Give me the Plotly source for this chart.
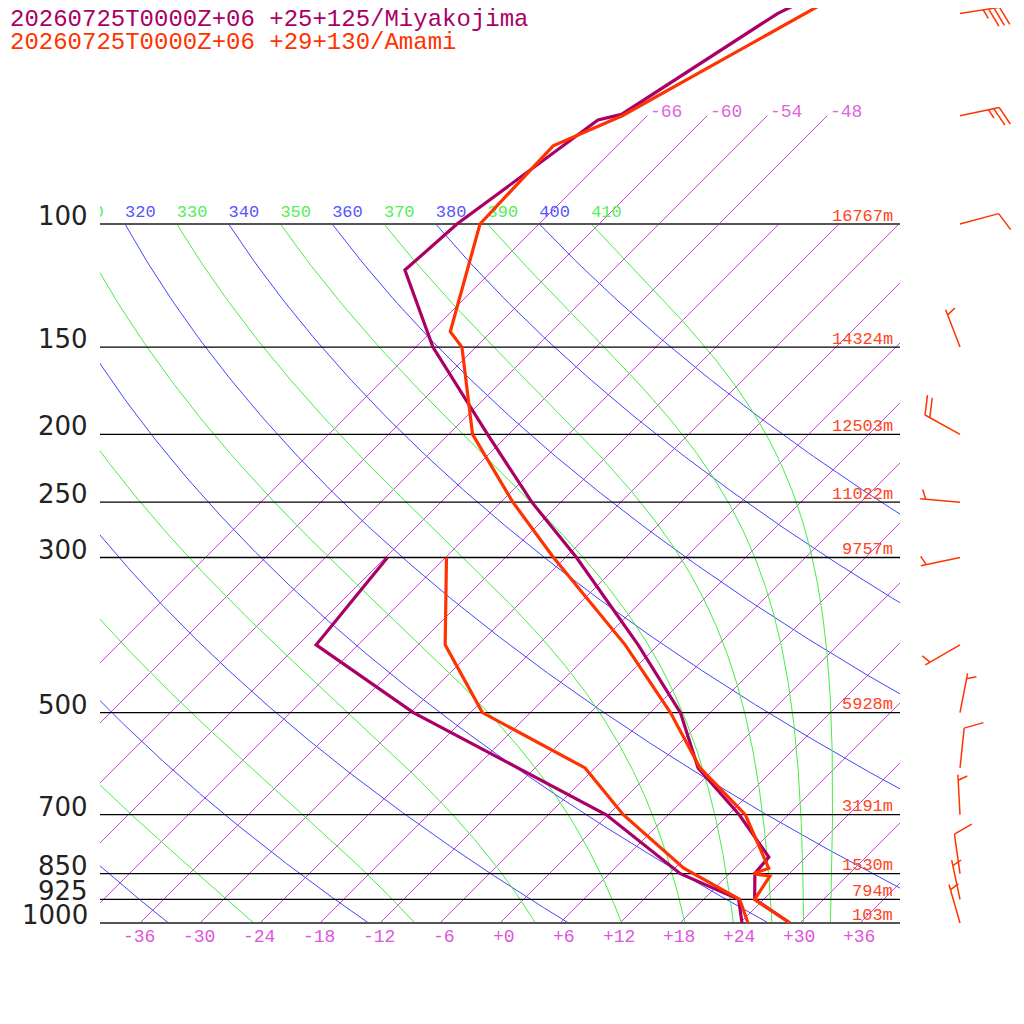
import numpy as np
import plotly.graph_objects as go

# Miyakojima sounding (hPa, degC)
miya_p = [30, 50, 69.7, 71, 100, 116.4, 150, 200, 250, 300, 400, 500, 600, 700, 805, 845, 857, 925, 1000]
miya_t = [-47.0, -63.2, -68.7, -70.5, -74.2, -74.8, -64.3, -50.1, -38.9, -28.9, -14.0, -3.0, 4.3, 13.1,
          20.3, 20.5, 20.8, 23.1, 29.0]
miya_td_p = [300, 400, 500, 700, 850, 925, 1000]
miya_td = [-47.8, -46.2, -29.7, -0.2, 13.1, 21.5, 24.2]

# Amami sounding
amami_p = [30, 50, 70, 77.3, 100, 142.6, 150, 200, 250, 300, 400, 500, 600, 700, 835, 850, 857, 925, 1000]
amami_t = [-48.2, -60.5, -68.5, -72.4, -71.9, -64.1, -61.4, -51.6, -40.8, -31.2, -15.3, -4.0, 4.5, 13.7,
           21.4, 20.4, 22.3, 23.1, 29.0]
amami_td_p = [300, 400, 500, 600, 700, 835, 925, 1000]
amami_td = [-41.9, -33.3, -22.8, -7.0, 1.5, 12.9, 21.6, 24.8]

# Amami winds (direction deg, speed kt)
wind_p = [50, 70, 100, 150, 200, 250, 300, 400, 500, 600, 700, 850, 925, 1000]
wind_dir = [81, 78, 75, 339, 299, 275, 258, 240, 11, 6, 357, 352, 348, 344]
wind_spd = [35, 25, 10, 5, 20, 5, 5, 5, 5, 10, 5, 10, 5, 5]

# isobars and Amami heights
std_p = [100, 150, 200, 250, 300, 500, 700, 850, 925, 1000]
amami_z = ["16767m", "14324m", "12503m", "11022m", "9757m", "5928m", "3191m", "1530m", "794m", "103m"]

dry_theta = list(range(240, 401, 20))
moist_theta = list(range(250, 411, 20))
theta_labels = list(range(310, 411, 10))
iso_t = list(range(-66, 37, 6))
iso_top = [-66, -60, -54, -48]
t_ticks = list(range(-36, 37, 6))

SKEW = 69.9  # degC per decade of pressure
K = 0.2857
MIYA = "#aa0066"
AMAMI = "#ff3300"
BLUE = "#4444ff"
GREEN = "#44ee44"
VIOLET = "#cc44dd"
MONO = "Liberation Mono"
OFF = 8  # page margin of the browser


def skx(t, p):
    return np.asarray(t, float) + SKEW * np.log10(1000.0 / np.asarray(p, float))


def moist_adiabat(theta, pgrid):
    Rd, cp, Lv, eps = 287.04, 1005.7, 2.501e6, 0.622

    def dtdp(t, p):
        es = 6.112 * np.exp(17.67 * (t - 273.15) / (t - 29.65))
        rs = eps * es / (p - es)
        return (Rd * t + Lv * rs) / (p * (cp + Lv * Lv * rs * eps / (Rd * t * t)))

    t = theta * (pgrid[0] / 1000.0) ** K
    out = [t]
    for p0, p1 in zip(pgrid[:-1], pgrid[1:]):
        h = p1 - p0
        k1 = dtdp(t, p0)
        k2 = dtdp(t + h * k1 / 2, p0 + h / 2)
        k3 = dtdp(t + h * k2 / 2, p0 + h / 2)
        k4 = dtdp(t + h * k3, p1)
        t = t + h * (k1 + 2 * k2 + 2 * k3 + k4) / 6
        out.append(t)
    return np.array(out) - 273.15


def barb_xy(p0, wdir, wspd, x0=46.0, L=40, fl=20, sp=5.5, ang=68):
    # screen offsets in px (y down) converted back to skewed X / pressure
    d = np.radians(wdir)
    ux, uy = np.sin(d), -np.cos(d)
    a = np.radians(ang)
    fx, fy = ux * np.cos(a) - uy * np.sin(a), ux * np.sin(a) + uy * np.cos(a)

    def pt(dx, dy):
        return x0 + dx / 10.0, p0 * 10 ** (dy / 699.0)

    xs, ys = [], []

    def seg(a0, a1):
        for q in (a0, a1):
            xx, yy = pt(*q)
            xs.append(xx)
            ys.append(yy)
        xs.append(None)
        ys.append(None)

    seg((0, 0), (L * ux, L * uy))
    n50, rest = divmod(int(round(wspd)), 50)
    n10, rest = divmod(rest, 10)
    n5 = 1 if rest >= 5 else 0
    pos = L
    for _ in range(n50):
        s = (pos * ux, pos * uy)
        e = (s[0] + fl * fx, s[1] + fl * fy)
        s2 = ((pos - sp * 1.6) * ux, (pos - sp * 1.6) * uy)
        seg(s, e)
        seg(e, s2)
        pos -= sp * 2
    for _ in range(n10):
        s = (pos * ux, pos * uy)
        seg(s, (s[0] + fl * fx, s[1] + fl * fy))
        pos -= sp
    if n5:
        if n50 == 0 and n10 == 0:
            pos = L - sp
        s = (pos * ux, pos * uy)
        seg(s, (s[0] + fl / 2 * fx, s[1] + fl / 2 * fy))
    return xs, ys


fig = go.Figure()
line_kw = dict(mode="lines", hoverinfo="skip", showlegend=False)
plev = np.linspace(100, 1000, 361)

# background inside the box (subplot 1 clips to the box)
for tt in iso_t:
    fig.add_trace(go.Scatter(x=skx([tt, tt], [100, 1000]), y=[100, 1000], line=dict(color=VIOLET, width=1),
                             xaxis="x", yaxis="y", **line_kw))
for th in dry_theta:
    t = th * (plev / 1000.0) ** K - 273.15
    fig.add_trace(go.Scatter(x=skx(t, plev), y=plev, line=dict(color=BLUE, width=1),
                             xaxis="x", yaxis="y", **line_kw))
for th in moist_theta:
    t = moist_adiabat(th, plev)
    fig.add_trace(go.Scatter(x=skx(t, plev), y=plev, line=dict(color=GREEN, width=1),
                             xaxis="x", yaxis="y", **line_kw))

# isotherms continuing above 100 hPa
for tt in iso_top:
    fig.add_trace(go.Scatter(x=skx([tt, tt], [100, 70]), y=[100, 70], line=dict(color=VIOLET, width=1),
                             xaxis="x2", yaxis="y2", **line_kw))

# isobars
for p in std_p:
    edge = p in (100, 1000)
    fig.add_trace(go.Scatter(x=[-40, 40], y=[p, p],
                             line=dict(color="#555555" if edge else "#000000", width=2 if edge else 1.3),
                             xaxis="x2", yaxis="y2", **line_kw))

# theta labels along 100 hPa
lab_x = [th * 0.1 ** K - 273.15 + SKEW for th in theta_labels]
lab_p = [100 * 10 ** (-11 / 699.0)] * len(theta_labels)
fig.add_trace(go.Scatter(
    x=lab_x, y=lab_p, mode="text", text=[str(th) for th in theta_labels], textposition="middle right",
    textfont=dict(family=MONO, size=17,
                  color=["#55ee55" if (th // 10) % 2 else "#5555ff" for th in theta_labels]),
    xaxis="x2", yaxis="y2", hoverinfo="skip", showlegend=False, cliponaxis=False))

# profiles
for p, t, c in [(miya_p, miya_t, MIYA), (miya_td_p, miya_td, MIYA),
                (amami_p, amami_t, AMAMI), (amami_td_p, amami_td, AMAMI)]:
    fig.add_trace(go.Scatter(x=skx(t, p), y=p, line=dict(color=c, width=3.2), xaxis="x2", yaxis="y2", **line_kw))

# wind barbs
bx, by = [], []
for p, d, s in zip(wind_p, wind_dir, wind_spd):
    xs, ys = barb_xy(p, d, s)
    bx += xs
    by += ys
fig.add_trace(go.Scatter(x=bx, y=by, line=dict(color=AMAMI, width=1.5), xaxis="x2", yaxis="y2", **line_kw))

ann = []
for p in std_p:
    ann.append(dict(x=-41.0, y=np.log10(p), xref="x2", yref="y2", text=str(p), showarrow=False,
                    xanchor="right", yanchor="middle", yshift=8,
                    font=dict(family="DejaVu Sans", size=26, color="#222222")))
for p, z in zip(std_p, amami_z):
    ann.append(dict(x=39.5, y=np.log10(p), xref="x2", yref="y2", text=z, showarrow=False,
                    xanchor="right", yanchor="middle", yshift=8,
                    font=dict(family=MONO, size=17, color="#ff4422")))
for tt in iso_top:
    ann.append(dict(x=float(skx(tt, 70)), y=np.log10(70), xref="x2", yref="y2", text="%d" % tt,
                    showarrow=False, xanchor="left", yanchor="middle", yshift=4, xshift=1,
                    font=dict(family=MONO, size=18, color="#dd66dd")))
for tt in t_ticks:
    ann.append(dict(x=tt + 1.7, y=3, xref="x2", yref="y2", text="%+d" % tt, showarrow=False,
                    xanchor="right", yanchor="middle", yshift=-14,
                    font=dict(family=MONO, size=18, color="#dd55dd")))
ann.append(dict(x=(8 - OFF) / 1024, y=1 - (19 - OFF) / 1024, xref="paper", yref="paper", showarrow=False,
                text="20260725T0000Z+06 +25+125/Miyakojima", xanchor="left", yanchor="middle",
                font=dict(family=MONO, size=24, color=MIYA)))
ann.append(dict(x=(8 - OFF) / 1024, y=1 - (42 - OFF) / 1024, xref="paper", yref="paper", showarrow=False,
                text="20260725T0000Z+06 +29+130/Amami", xanchor="left", yanchor="middle",
                font=dict(family=MONO, size=24, color=AMAMI)))

ax = dict(visible=False, showgrid=False, zeroline=False, fixedrange=True)
fig.update_layout(
    width=1024, height=1024, margin=dict(l=0, r=0, t=0, b=0),
    paper_bgcolor="white", plot_bgcolor="rgba(0,0,0,0)", showlegend=False,
    xaxis=dict(ax, domain=[(100 - OFF) / 1024, (900 - OFF) / 1024], range=[-40, 40], anchor="y"),
    yaxis=dict(ax, domain=[1 - (923 - OFF) / 1024, 1 - (224 - OFF) / 1024], type="log", range=[3, 2], anchor="x"),
    xaxis2=dict(ax, domain=[0, 1], range=[(OFF - 500) / 10, (1024 + OFF - 500) / 10], anchor="y2"),
    yaxis2=dict(ax, domain=[0, 1], type="log",
                range=[3 + (1024 + OFF - 923) / 699, 3 - (923 - OFF) / 699], anchor="x2"),
    annotations=ann,
    shapes=[dict(type="rect", xref="paper", yref="paper", x0=0, x1=(100 - OFF) / 1024,
                 y0=1 - (223 - OFF) / 1024, y1=1 - (200 - OFF) / 1024, fillcolor="white",
                 line=dict(width=0), layer="above")],
)

fig.write_html("out.html", config=dict(displayModeBar=False))
